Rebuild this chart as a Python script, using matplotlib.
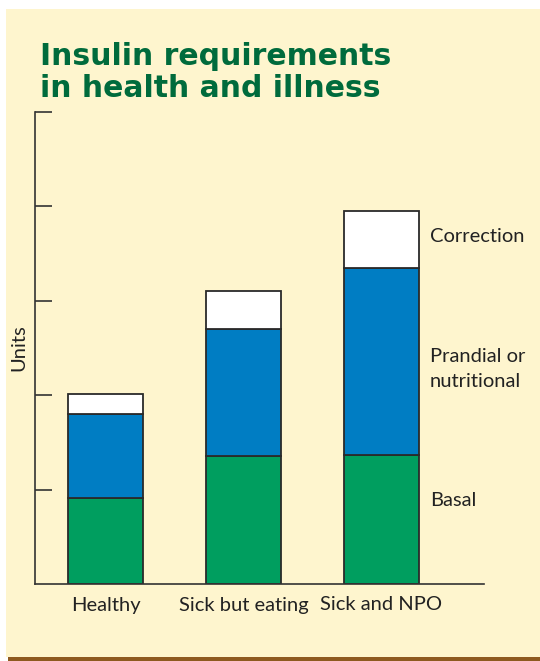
import matplotlib
matplotlib.use("Agg")
import matplotlib.pyplot as plt
from matplotlib.patches import Rectangle
import numpy as np

categories = ["Healthy", "Sick but eating", "Sick and NPO"]
basal = [0.91, 1.36, 1.37]
prandial = [0.89, 1.34, 1.98]
correction = [0.21, 0.40, 0.60]
series_labels = ["Basal", "Prandial or\nnutritional", "Correction"]

W, H = 540, 661
fig = plt.figure(figsize=(W / 100, H / 100), dpi=100)
fig.patch.set_facecolor("white")

def px(x, y):
    return x / W, 1 - y / H

# panel background
fig.patches.append(Rectangle(px(6, 657), (W - 6) / W, (657 - 9) / H,
                             transform=fig.transFigure, facecolor="#FEF5CE",
                             edgecolor="none", zorder=-10))
fig.patches.append(Rectangle(px(8, 661), (W - 8) / W, 4 / H,
                             transform=fig.transFigure, facecolor="#8E5A1F",
                             edgecolor="none", zorder=-9))

font = ["Lato", "DejaVu Sans"]
fs = 14.5

x0, y0 = px(35, 584)
x1, y1 = px(484, 112)
ax = fig.add_axes([x0, y0, x1 - x0, y1 - y0])
ax.set_facecolor("none")

x = np.arange(len(categories))
w = 0.543
b = np.array(basal)
p = np.array(prandial)
c = np.array(correction)
ec = "#2a2a2a"
ax.bar(x, b, w, color="#009E5F", edgecolor=ec, linewidth=1.3)
ax.bar(x, p, w, bottom=b, color="#007DC3", edgecolor=ec, linewidth=1.3)
ax.bar(x, c, w, bottom=b + p, color="white", edgecolor=ec, linewidth=1.3)

ax.set_xlim(-0.511, 2.743)
ax.set_ylim(0, 5)
ax.set_yticks([1, 2, 3, 4, 5])
ax.set_yticklabels([])
ax.tick_params(axis="y", direction="in", length=12, width=1.2, color="#333333")
ax.set_xticks(x)
ax.set_xticklabels(categories, family=font, fontsize=fs, color="#222222")
ax.tick_params(axis="x", length=0, pad=9)
for s in ["top", "right"]:
    ax.spines[s].set_visible(False)
for s in ["left", "bottom"]:
    ax.spines[s].set_color("#333333")
    ax.spines[s].set_linewidth(1.2)
ax.set_ylabel("Units", family=font, fontsize=fs, color="#222222", labelpad=2)

# series labels next to the last bar
lx = 2 + w / 2 + 0.08
last = [b[2] / 2 + 0.2, b[2] + p[2] / 2 - 0.08, b[2] + p[2] + c[2] / 2 + 0.03]
for lab, yy in zip(series_labels, last):
    ax.text(lx, yy, lab, family=font, fontsize=fs, color="#222222",
            va="center", ha="left", linespacing=1.6)

fig.text(40 / W, 1 - 42 / H, "Insulin requirements\nin health and illness",
         family=["DejaVu Sans"], fontweight="bold", fontsize=21.5,
         color="#006B3C", va="top", ha="left", linespacing=1.15)

fig.savefig("out.png", dpi=100, facecolor="white")
